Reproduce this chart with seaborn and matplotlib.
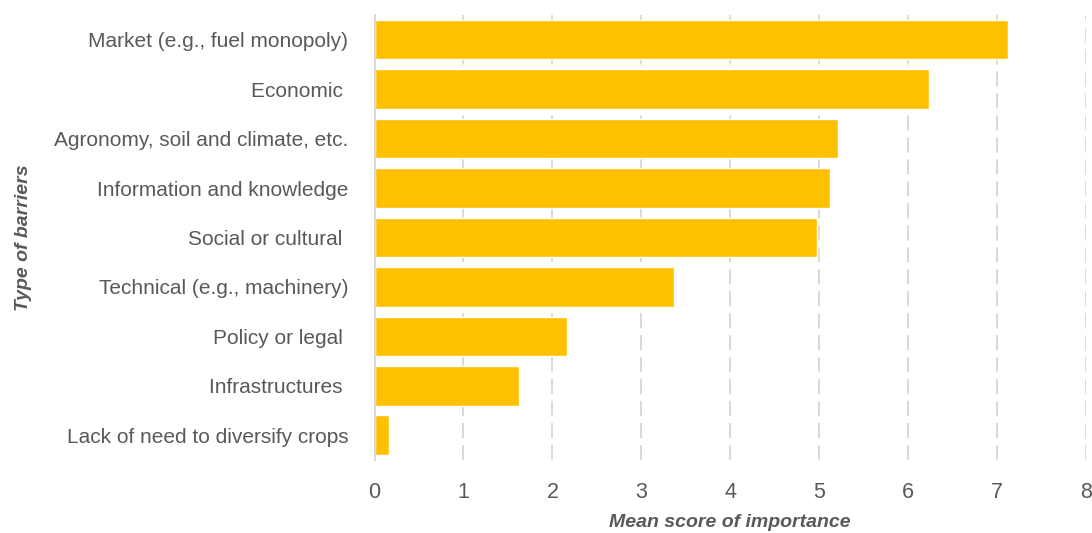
import matplotlib
matplotlib.use("Agg")
import matplotlib.pyplot as plt
import seaborn as sns
import pandas as pd

sns.set_style("white")
plt.rcParams["font.family"] = ["Liberation Sans", "DejaVu Sans"]

barriers = [
    "Market (e.g., fuel monopoly)",
    "Economic ",
    "Agronomy, soil and climate, etc.",
    "Information and knowledge",
    "Social or cultural ",
    "Technical (e.g., machinery)",
    "Policy or legal ",
    "Infrastructures ",
    "Lack of need to diversify crops",
]
scores = [7.12, 6.24, 5.21, 5.12, 4.97, 3.37, 2.16, 1.62, 0.16]
x_ticks = [0, 1, 2, 3, 4, 5, 6, 7, 8]

df = pd.DataFrame({"barrier": barriers, "score": scores})

fig = plt.figure(figsize=(10.92, 5.33), dpi=100)
ax = fig.add_axes([0.343, 0.137, 0.6515, 0.835])

sns.barplot(data=df, x="score", y="barrier", order=barriers, color="#FFC000",
            saturation=1, width=0.8, ax=ax)

ax.set_xlim(0, 8)
ax.set_xticks(x_ticks)
ax.grid(axis="x", color="#D9D9D9", linestyle=(0, (7.7, 3.6)), linewidth=1.4)
ax.grid(axis="y", visible=False)
ax.set_axisbelow(True)
for s in ["top", "right", "bottom"]:
    ax.spines[s].set_visible(False)
ax.spines["left"].set_color("#D9D9D9")
ax.spines["left"].set_linewidth(1.4)

ax.tick_params(axis="x", length=0, pad=16, labelsize=15.5, labelcolor="#595959")
ax.tick_params(axis="y", length=0, pad=19, labelsize=15, labelcolor="#595959")

ax.set_xlabel("Mean score of importance", fontsize=14, fontweight="bold",
              fontstyle="italic", color="#595959", labelpad=8)
ax.set_ylabel("Type of barriers", fontsize=14, fontweight="bold",
              fontstyle="italic", color="#595959")
ax.yaxis.set_label_coords(-0.481, 0.5)

fig.savefig("out.png", dpi=100)
